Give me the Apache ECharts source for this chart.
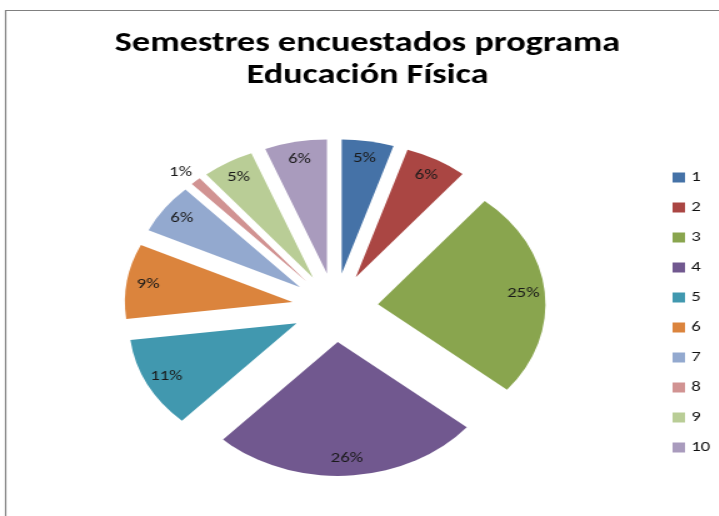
<!DOCTYPE html>
<html><head><meta charset="utf-8">
<script src="https://cdn.jsdelivr.net/npm/echarts@6/dist/echarts.min.js"></script>
<style>
html,body{margin:0;padding:0;background:#fff;overflow:hidden;width:719px;height:516px}
#wrap{width:575px;height:516px;transform:scaleX(1.25);transform-origin:0 0}
</style></head><body><div id="wrap"></div>
<script>
// Data
const titleText = 'Semestres encuestados programa\nEducación Física';
const categories = ['1', '2', '3', '4', '5', '6', '7', '8', '9', '10'];
const values = [5, 6, 25, 26, 11, 9, 6, 1, 5, 6];
const colors = ['#4572A7', '#AA4643', '#89A54E', '#71588F', '#4198AF', '#DB843D', '#93A9CF', '#D19392', '#B9CD96', '#A99BBD'];
const outsideLabelIdx = [7];

const FONT = 'Carlito, Lato, sans-serif';
const CENTER = [268, 307.5];
const R = 134;
const OFFSET = 34.5;
const pct = p => Math.round(p.percent) + '%';

const mainData = categories.map((c, i) => ({
  name: c, value: values[i], selected: true,
  itemStyle: { color: colors[i] },
  label: { show: outsideLabelIdx.includes(i) }
}));
const labelData = categories.map((c, i) => ({
  name: c, value: values[i], selected: true,
  itemStyle: { color: 'rgba(0,0,0,0)' },
  label: { show: !outsideLabelIdx.includes(i) }
}));

const chart = echarts.init(document.getElementById('wrap'), null, { renderer: 'canvas' });
chart.setOption({
  animation: false,
  color: colors,
  title: {
    text: titleText, left: 294, top: 28, textAlign: 'center', padding: 0,
    textStyle: { fontFamily: FONT, fontSize: 29, fontWeight: 'bold', color: '#000', lineHeight: 32 }
  },
  legend: {
    orient: 'vertical', left: 538, top: 170, padding: 0, itemWidth: 10, itemHeight: 10, itemGap: 15,
    icon: 'rect', selectedMode: false, data: categories,
    textStyle: { fontFamily: FONT, fontSize: 15, color: '#111', lineHeight: 14 }
  },
  graphic: [{
    type: 'rect', silent: true, z: -1,
    shape: { x: 4.5, y: 10.5, width: 700, height: 600 },
    style: { fill: 'none', stroke: '#808080', lineWidth: 1.2 }
  }],
  series: [{
    type: 'pie', center: CENTER, radius: [0, R], startAngle: 90, clockwise: true,
    selectedMode: 'multiple', selectedOffset: OFFSET, avoidLabelOverlap: false,
    emphasis: { disabled: true }, select: { itemStyle: { borderWidth: 0 } },
    itemStyle: { borderWidth: 0 },
    label: { position: 'outside', formatter: pct, fontFamily: FONT, fontSize: 15, color: '#1a1a1a', distanceToLabelLine: -5 },
    labelLine: { show: false, length: 12, length2: 0 },
    data: mainData
  }, {
    type: 'pie', center: CENTER, radius: [0, R * 1.7], startAngle: 90, clockwise: true,
    selectedMode: 'multiple', selectedOffset: OFFSET, avoidLabelOverlap: false, silent: true,
    legendHoverLink: false,
    emphasis: { disabled: true }, select: { itemStyle: { borderWidth: 0, color: 'rgba(0,0,0,0)' } },
    itemStyle: { borderWidth: 0 },
    label: { position: 'inside', formatter: pct, fontFamily: FONT, fontSize: 15, color: '#1a1a1a' },
    labelLine: { show: false },
    data: labelData
  }]
});
</script></body></html>
